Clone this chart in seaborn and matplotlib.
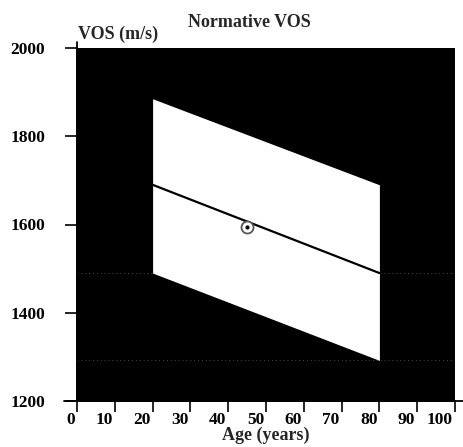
import matplotlib
matplotlib.use("Agg")
import matplotlib.pyplot as plt
import matplotlib.transforms as mtransforms
import pandas as pd
import seaborn as sns

# Normative speed-of-sound band by age, with one subject's measurement
age_span = [20, 80]
vos_upper = [1885, 1690]
vos_mean = [1690, 1490]
vos_lower = [1490, 1292]
subject_age = [45]
subject_vos = [1595]
x_ticks = list(range(0, 101, 10))
y_ticks = [1200, 1400, 1600, 1800, 2000]

sns.set_theme(style="white")
plt.rcParams["font.family"] = ["Liberation Serif", "DejaVu Serif"]
plt.rcParams["font.weight"] = "bold"

W, H = 464, 447
fig = plt.figure(figsize=(W / 100, H / 100), dpi=100)
ax = fig.add_axes([77 / W, 1 - 401 / H, (455 - 77) / W, (401 - 48) / H])
ax.set_facecolor("black")
ax.set_xlim(0, 100)
ax.set_ylim(1200, 2000)

# faint dotted reference levels at the lower edge of the band
for v in vos_lower:
    ax.axhline(v, color="#4a4a4a", ls=(0, (1, 3)), lw=0.7, zorder=1)

# normative band
ax.fill_between(age_span, vos_lower, vos_upper, color="white", lw=0, zorder=2)

# mean line
mean_df = pd.DataFrame({"age": age_span, "vos": vos_mean})
sns.lineplot(data=mean_df, x="age", y="vos", color="black", lw=1.6, ax=ax, zorder=3)

# subject measurement: ringed dot
subj_df = pd.DataFrame({"age": subject_age, "vos": subject_vos})
sns.scatterplot(data=subj_df, x="age", y="vos", s=75, marker="o", facecolor="white",
                edgecolor="#555555", linewidth=1.3, ax=ax, zorder=4)
sns.scatterplot(data=subj_df, x="age", y="vos", s=9, color="black", linewidth=0,
                ax=ax, zorder=5)

ax.set_xlabel("")
ax.set_ylabel("")

for s in ["top", "right"]:
    ax.spines[s].set_visible(False)
for s in ["left", "bottom"]:
    ax.spines[s].set_color("black")
    ax.spines[s].set_linewidth(1.3)

# axis lines running past the plotting area
ax.axhline(1200, xmin=-0.034, xmax=1.024, color="black", lw=1.3, clip_on=False, zorder=6)
ax.axvline(0, ymin=0, ymax=1.017, color="black", lw=1.3, clip_on=False, zorder=6)

ax.set_xticks(x_ticks)
ax.set_yticks(y_ticks)
ax.set_xticklabels([str(t) for t in x_ticks])
ax.set_yticklabels([str(t) for t in y_ticks])
ax.tick_params(axis="x", direction="out", length=8, width=1.2, pad=0.0,
               labelsize=12.5, colors="black", bottom=True)
ax.tick_params(axis="y", direction="out", length=9, width=1.2, pad=14,
               labelsize=12.5, colors="black", left=True)
offset = mtransforms.ScaledTranslation(-2 / 100, 0, fig.dpi_scale_trans)
for lab in ax.get_xticklabels():
    lab.set_ha("right")
    lab.set_fontweight("bold")
    lab.set_transform(lab.get_transform() + offset)
for lab in ax.get_yticklabels():
    lab.set_fontweight("bold")

fig.text(249 / W, 1 - 27 / H, "Normative VOS", ha="center", va="baseline",
         fontsize=13, fontweight="bold")
fig.text(78 / W, 1 - 39 / H, "VOS (m/s)", ha="left", va="baseline",
         fontsize=13, fontweight="bold")
fig.text(266 / W, 1 - 440 / H, "Age (years)", ha="center", va="baseline",
         fontsize=13, fontweight="bold")

fig.savefig("out.png", dpi=100, facecolor="white")
